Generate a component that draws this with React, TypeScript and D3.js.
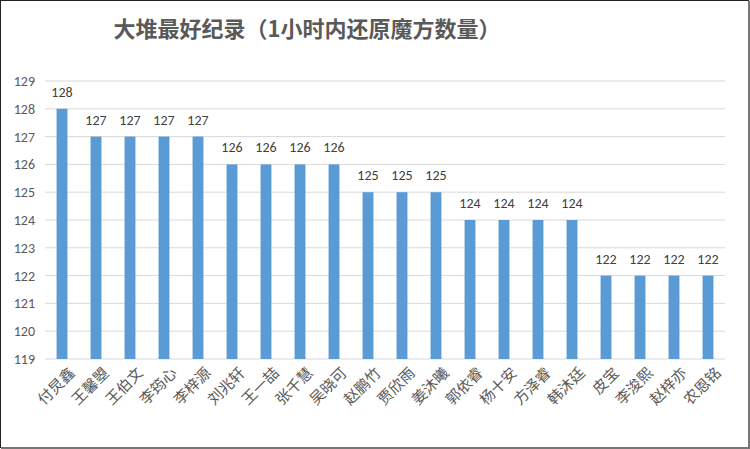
import { useEffect, useRef } from "react"
import * as d3 from "d3"

const TITLE = "大堆最好纪录（1小时内还原魔方数量）"

const names = [
  "付炅鑫", "王馨曌", "王伯文", "李筠心", "李梓源",
  "刘兆轩", "王一喆", "张千慧", "吴晓可", "赵鹏竹",
  "贾欣雨", "姜沐曦", "郭依睿", "杨十安", "方泽睿",
  "韩沐廷", "皮宝", "李浚熙", "赵梓亦", "农恩铭",
]

const counts = [
  128, 127, 127, 127, 127,
  126, 126, 126, 126, 125,
  125, 125, 124, 124, 124,
  124, 122, 122, 122, 122,
]

const yTicks = [119, 120, 121, 122, 123, 124, 125, 126, 127, 128, 129]

const W = 750
const H = 449
const CJK = "'Noto Sans CJK SC', sans-serif"
const NUM = "Carlito, Calibri, 'Liberation Sans', sans-serif"

export default function App() {
  const svgRef = useRef<SVGSVGElement>(null)

  useEffect(() => {
    document.body.style.margin = "0"
    const svg = d3.select(svgRef.current!)
    svg.selectAll("*").remove()

    const margin = { left: 45, right: 25, top: 81 }
    const x = d3
      .scaleBand<string>()
      .domain(names)
      .range([margin.left, W - margin.right])
      .paddingInner(0.68)
      .paddingOuter(0.34)
    const y = d3.scaleLinear().domain([119, 129]).range([359, margin.top])

    // background + frame
    svg.append("rect").attr("width", W).attr("height", H).attr("fill", "#fff")
    svg
      .append("rect")
      .attr("x", 0.5)
      .attr("y", 0.5)
      .attr("width", W - 2)
      .attr("height", H - 2)
      .attr("fill", "none")
      .attr("stroke", "#222")
      .attr("stroke-width", 1)
    svg
      .append("path")
      .attr("d", `M${W - 1},1V${H - 1}H1`)
      .attr("fill", "none")
      .attr("stroke", "#777")
      .attr("stroke-width", 2)

    // title
    svg
      .append("text")
      .attr("x", 307)
      .attr("y", 37)
      .attr("text-anchor", "middle")
      .attr("font-family", CJK)
      .attr("font-size", 22)
      .attr("font-weight", 700)
      .attr("fill", "#595959")
      .text(TITLE)

    // grid
    svg
      .append("g")
      .selectAll("line")
      .data(yTicks)
      .enter()
      .append("line")
      .attr("x1", margin.left)
      .attr("x2", W - margin.right)
      .attr("y1", (d) => y(d))
      .attr("y2", (d) => y(d))
      .attr("stroke", "#d9d9d9")
      .attr("stroke-width", 1)

    // y labels
    svg
      .append("g")
      .selectAll("text")
      .data(yTicks)
      .enter()
      .append("text")
      .attr("x", 35)
      .attr("y", (d) => y(d))
      .attr("dy", "0.35em")
      .attr("text-anchor", "end")
      .attr("font-family", NUM)
      .attr("font-size", 14)
      .attr("fill", "#595959")
      .text((d) => d)

    // bars
    svg
      .append("g")
      .selectAll("rect")
      .data(counts)
      .enter()
      .append("rect")
      .attr("x", (_, i) => x(names[i])!)
      .attr("width", x.bandwidth())
      .attr("y", (d) => y(d))
      .attr("height", (d) => y(119) - y(d))
      .attr("fill", "#5b9bd5")

    // value labels
    svg
      .append("g")
      .selectAll("text")
      .data(counts)
      .enter()
      .append("text")
      .attr("x", (_, i) => x(names[i])! + x.bandwidth() / 2)
      .attr("y", (d) => y(d) - 12)
      .attr("text-anchor", "middle")
      .attr("font-family", NUM)
      .attr("font-size", 14)
      .attr("fill", "#404040")
      .text((d) => d)

    // category labels, rotated -45
    svg
      .append("g")
      .selectAll("text")
      .data(names)
      .enter()
      .append("text")
      .attr("transform", (d) => {
        const cx = x(d)! + x.bandwidth() / 2 + 6
        return `translate(${cx},${366}) rotate(-45)`
      })
      .attr("text-anchor", "end")
      .attr("dy", "0.75em")
      .attr("font-family", CJK)
      .attr("font-size", 15)
      .attr("fill", "#595959")
      .text((d) => d)
  }, [])

  return <svg ref={svgRef} width={W} height={H} style={{ display: "block" }} />
}
